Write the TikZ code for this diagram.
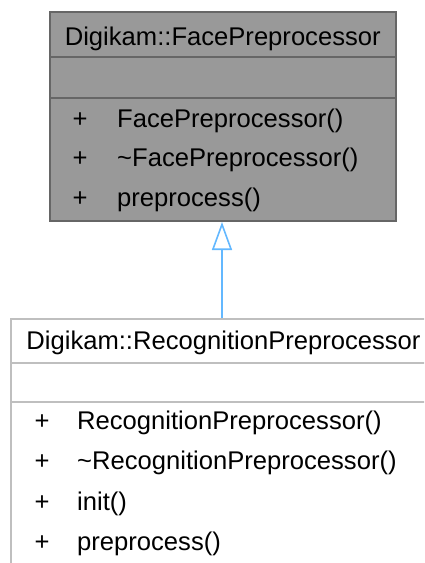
\documentclass[tikz,border=0pt]{standalone}
\usepackage{fontspec}
\setmainfont{Liberation Sans}
\usetikzlibrary{arrows.meta}
\definecolor{topfill}{HTML}{999999}
\definecolor{topline}{HTML}{666666}
\definecolor{botline}{HTML}{BFBFBF}
\definecolor{arrowc}{HTML}{63B8FF}
\tikzset{
  x=1pt, y=1pt,
  txt/.style={inner sep=0pt, anchor=base, font=\fontsize{25.6}{29}\selectfont, text=black},
  mem/.style={txt, anchor=base west},
  plus/.style={txt, anchor=base},
  topbox/.style={draw=topline, fill=topfill, line width=2pt, inner sep=0pt},
  botbox/.style={draw=botline, fill=white, line width=2pt, inner sep=0pt},
  inherit/.style={draw=arrowc, line width=1.6pt, -{Triangle[open, length=28pt, width=20pt, fill=white]}}
}
\begin{document}
\begin{tikzpicture}
\useasboundingbox (0,0) rectangle (424,-563);
\clip (0,0) rectangle (424,-563);
% top class box
\node[topbox, minimum width=346.5pt, minimum height=209pt] (face) at (222.75,-116.5) {};
\draw[topline, line width=2pt] (49.5,-57) -- (396,-57) (49.5,-98) -- (396,-98);
\node[txt] (ftitle) at (222.75,-45) {Digikam::FacePreprocessor};
\node[plus] (fp1) at (80,-127) {+};
\node[mem] (fm1) at (117,-127) {FacePreprocessor()};
\node[plus] (fp2) at (80,-166) {+};
\node[mem] (fm2) at (117,-166) {\textasciitilde FacePreprocessor()};
\node[plus] (fp3) at (80,-206) {+};
\node[mem] (fm3) at (117,-206) {preprocess()};
% bottom class box
\node[botbox, minimum width=422pt, minimum height=300pt, anchor=north] (rec) at (222,-318) {};
\draw[botline, line width=2pt] (11,-363) -- (440,-363) (11,-402) -- (440,-402);
\node[txt] (rtitle) at (223.5,-349) {Digikam::RecognitionPreprocessor};
\node[plus] (rp1) at (42,-429) {+};
\node[mem] (rm1) at (77,-429) {RecognitionPreprocessor()};
\node[plus] (rp2) at (42,-469) {+};
\node[mem] (rm2) at (77,-469) {\textasciitilde RecognitionPreprocessor()};
\node[plus] (rp3) at (42,-510) {+};
\node[mem] (rm3) at (77,-510) {init()};
\node[plus] (rp4) at (42,-550) {+};
\node[mem] (rm4) at (77,-550) {preprocess()};
% inheritance
\draw[inherit] (rec.north) -- (rec.north |- face.south);
\end{tikzpicture}
\end{document}
